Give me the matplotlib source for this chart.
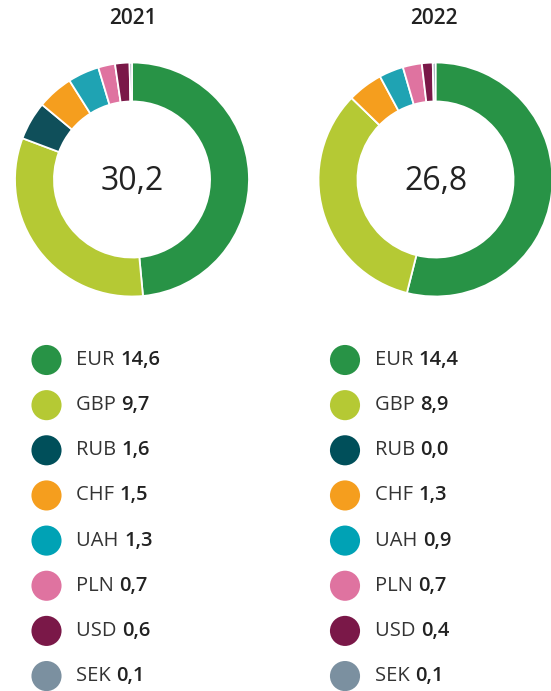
import numpy as np
import matplotlib.pyplot as plt

plt.rcParams["font.family"] = ["Open Sans", "DejaVu Sans"]

# %% Data
currencies = ["EUR", "GBP", "RUB", "CHF", "UAH", "PLN", "USD", "SEK"]
values_2021 = [14.6, 9.7, 1.6, 1.5, 1.3, 0.7, 0.6, 0.1]
values_2022 = [14.4, 8.9, 0.0, 1.3, 0.9, 0.7, 0.4, 0.1]
totals = ["30,2", "26,8"]
years = ["2021", "2022"]
colors = ["#289346", "#b5c934", "#0f4f5a", "#f59e1e",
          "#1fa3b3", "#df73a0", "#7a1848", "#7b90a0"]
legend_colors = ["#289346", "#b5c934", "#004f5a", "#f59e1e",
                 "#00a2b5", "#df73a0", "#7a1848", "#7b90a0"]

W, H = 551, 691
fig = plt.figure(figsize=(W / 100, H / 100), dpi=100)


def px_axes(cx, cy, half):
    # axes centred on a pixel position (y measured from top)
    return fig.add_axes([(cx - half) / W, 1 - (cy + half) / H, 2 * half / W, 2 * half / H])


# %% Donuts
R = 117
half = 125
for cx, vals, total in [(132, values_2021, totals[0]), (435.5, values_2022, totals[1])]:
    ax = px_axes(cx, 179.5, half)
    ax.pie(vals, colors=colors, startangle=90, counterclock=False, radius=1,
           wedgeprops=dict(width=0.333, edgecolor="white", linewidth=1.3))
    lim = half / R
    ax.set_xlim(-lim, lim)
    ax.set_ylim(-lim, lim)
    ax.set_aspect("equal")
    ax.axis("off")
    ax.text(0, -0.02, total, ha="center", va="center", fontsize=23, color="#222222")

# %% Titles and legends
lax = fig.add_axes([0, 0, 1, 1])
lax.set_xlim(0, W)
lax.set_ylim(H, 0)
lax.axis("off")

lax.text(132.5, 18, years[0], ha="center", va="center", fontsize=15,
         fontweight="semibold", color="#222222")
lax.text(434, 18, years[1], ha="center", va="center", fontsize=15,
         fontweight="semibold", color="#222222")

renderer = fig.canvas.get_renderer()
row_y = 360 + 45.15 * np.arange(len(currencies))
for x0, vals in [(46.5, values_2021), (345, values_2022)]:
    lax.scatter([x0] * len(currencies), row_y, s=470, c=legend_colors, edgecolors="none")
    for name, v, y in zip(currencies, vals, row_y):
        t = lax.text(x0 + 30, y, name + " ", ha="left", va="center",
                     fontsize=14.5, color="#333333")
        bb = t.get_window_extent(renderer=renderer)
        xv = bb.x1 * W / fig.bbox.width
        lax.text(xv, y, f"{v:.1f}".replace(".", ","), ha="left", va="center",
                 fontsize=14.5, fontweight="semibold", color="#222222")

fig.savefig("out.png", dpi=100)
